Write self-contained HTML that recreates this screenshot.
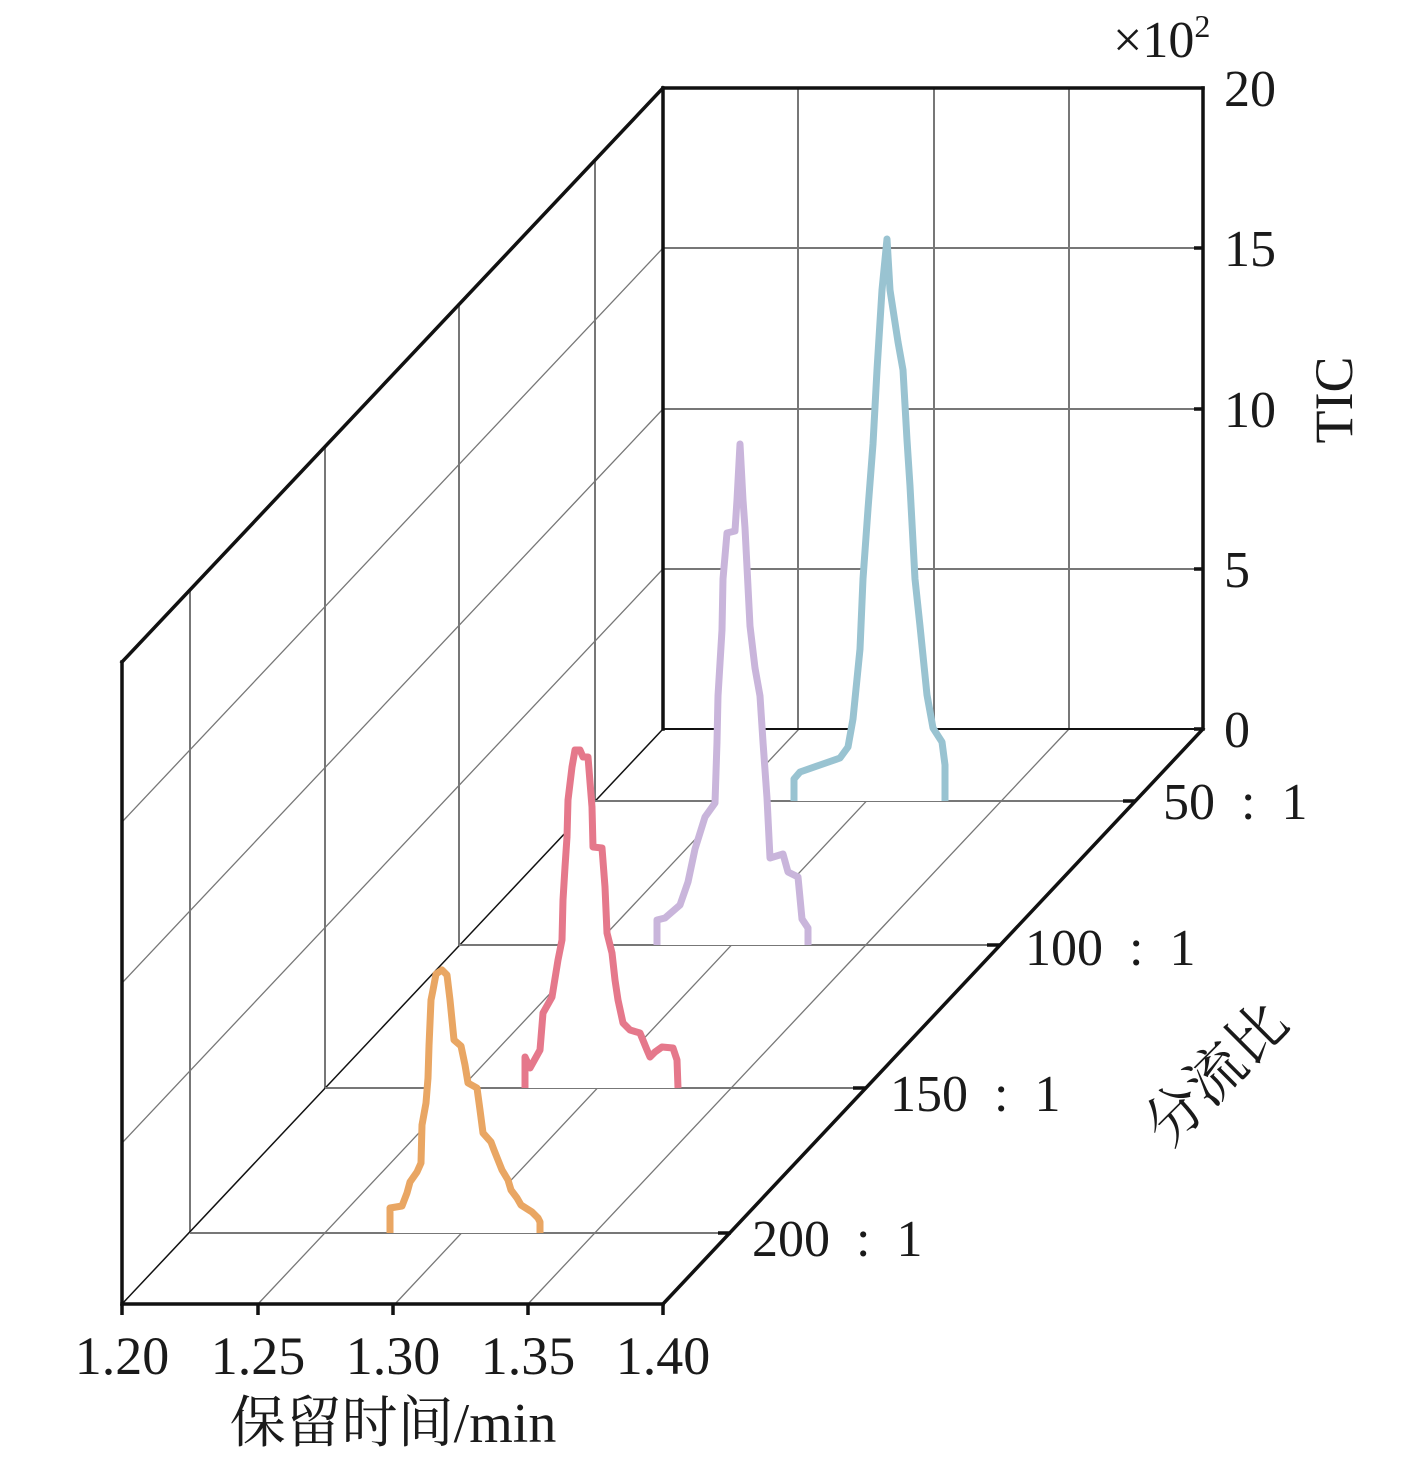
<!DOCTYPE html>
<html><head><meta charset="utf-8"><style>
html,body{margin:0;padding:0;background:#fff;}
svg{display:block;}
text{font-family:"Liberation Serif","Noto Serif CJK SC",serif;fill:#1a1a1a;}
</style></head><body>
<svg width="1417" height="1459" viewBox="0 0 1417 1459" xmlns="http://www.w3.org/2000/svg">
<rect width="1417" height="1459" fill="#fff"/>
<g stroke="#777" stroke-width="2" fill="none">
<line x1="798" y1="88" x2="798" y2="729"/><line x1="934" y1="88" x2="934" y2="729"/><line x1="1069" y1="88" x2="1069" y2="729"/>
<line x1="663" y1="248" x2="1203" y2="248"/><line x1="663" y1="409" x2="1203" y2="409"/><line x1="663" y1="569" x2="1203" y2="569"/>
<line x1="190" y1="1232" x2="190" y2="590"/><line x1="325" y1="1088" x2="325" y2="447"/><line x1="459" y1="945" x2="459" y2="304"/><line x1="595" y1="801" x2="595" y2="160"/>
</g>
<g stroke="#777" stroke-width="1.3" fill="none">
<line x1="122" y1="822" x2="663" y2="248"/><line x1="122" y1="983" x2="663" y2="409"/><line x1="122" y1="1143" x2="663" y2="569"/>
<line x1="258" y1="1304" x2="799" y2="729"/><line x1="395" y1="1304" x2="934" y2="729"/><line x1="528" y1="1304" x2="1069" y2="729"/>
</g>
<line x1="122" y1="1304" x2="663" y2="729" stroke="#111" stroke-width="1.5"/>
<g stroke="#777" stroke-width="2">
<line x1="190" y1="1233" x2="731" y2="1233"/><line x1="325" y1="1088" x2="866" y2="1088"/><line x1="459" y1="945" x2="1000" y2="945"/><line x1="595" y1="801" x2="1136" y2="801"/>
</g>
<line x1="663" y1="729" x2="1203" y2="729" stroke="#111" stroke-width="2"/>
<g fill="#fff" stroke-width="7" stroke-linejoin="round">
<polyline stroke="#99c3d1" points="794,801 794,779 800,772 820,765 840,758 848,747 853,719 860,649 863,579 868,509 873,444 877,370 882,290 887,239 890,290 898,342 903,370 907,440 910,486 915,579 920,626 927,695 933,728 942,742 945,765 945,801"/>
<polyline stroke="#c9b5db" points="657,945 657,920 665,918 680,905 688,882 695,849 705,817 715,803 717,742 718,696 722,630 723,579 727,533 735,531 737,500 740,444 743,500 745,528 750,626 755,668 760,696 763,742 767,798 770,858 783,854 788,872 798,877 802,919 808,928 808,945"/>
<polyline stroke="#e5788b" points="525,1088 525,1057 530,1068 540,1050 543,1013 552,997 558,960 562,940 563,900 565,867 567,837 568,800 572,767 575,750 580,750 583,757 588,757 592,807 593,847 602,848 605,887 607,933 612,953 615,980 618,1000 623,1023 630,1030 640,1033 647,1050 650,1057 655,1052 662,1047 673,1048 677,1060 678,1088"/>
<polyline stroke="#e9a663" points="390,1233 390,1208 402,1206 407,1193 410,1182 417,1172 421,1163 422,1125 426,1103 428,1078 429,1046 431,1000 433,990 436,974 442,970 447,975 450,1000 452,1020 454,1040 461,1046 465,1065 468,1083 477,1088 480,1110 483,1133 491,1142 494,1150 498,1160 502,1170 508,1180 511,1190 517,1198 521,1205 532,1212 538,1218 540,1222 540,1233"/>
</g>
<g stroke="#111" stroke-width="3.5" fill="none" stroke-linecap="square">
<line x1="663" y1="88" x2="663" y2="729"/><line x1="663" y1="88" x2="1203" y2="88"/><line x1="1203" y1="88" x2="1203" y2="729"/>
<line x1="122" y1="662" x2="663" y2="88"/><line x1="122" y1="662" x2="122" y2="1304"/>
<line x1="122" y1="1304" x2="663" y2="1304"/><line x1="663" y1="1304" x2="1203" y2="729"/>
</g>
<g stroke="#111" stroke-width="3.5">
<line x1="122" y1="1304" x2="122" y2="1315"/><line x1="258" y1="1304" x2="258" y2="1315"/><line x1="393" y1="1304" x2="393" y2="1315"/><line x1="528" y1="1304" x2="528" y2="1315"/><line x1="663" y1="1304" x2="663" y2="1315"/>
<line x1="1194" y1="248" x2="1203" y2="248"/><line x1="1194" y1="409" x2="1203" y2="409"/><line x1="1194" y1="569" x2="1203" y2="569"/><line x1="1194" y1="729" x2="1203" y2="729"/>
<line x1="718" y1="1233" x2="731" y2="1233"/><line x1="853" y1="1088" x2="866" y2="1088"/><line x1="987" y1="945" x2="1000" y2="945"/><line x1="1123" y1="801" x2="1136" y2="801"/>
</g>
<g font-size="52">
<text x="1224" y="106">20</text><text x="1224" y="266">15</text><text x="1224" y="427">10</text><text x="1224" y="587">5</text><text x="1224" y="747">0</text>
<text x="1163" y="819">50&#8194;:&#8194;1</text><text x="1025" y="965">100&#8194;:&#8194;1</text><text x="890" y="1111">150&#8194;:&#8194;1</text><text x="752" y="1256">200&#8194;:&#8194;1</text>
<g text-anchor="middle" font-size="54"><text x="122" y="1374">1.20</text><text x="258" y="1374">1.25</text><text x="393" y="1374">1.30</text><text x="528" y="1374">1.35</text><text x="663" y="1374">1.40</text></g>
<text x="1352" y="400" text-anchor="middle" transform="rotate(-90 1352 400)" font-size="54">TIC</text>
<text x="1230" y="1088" text-anchor="middle" transform="rotate(-45 1230 1088)" font-size="58">分流比</text>
<text x="393" y="1442" text-anchor="middle" font-size="56">保留时间/min</text>
<text x="1113" y="57" font-size="52">×10<tspan font-size="32" dy="-20">2</tspan></text>
</g>
</svg>
</body></html>
